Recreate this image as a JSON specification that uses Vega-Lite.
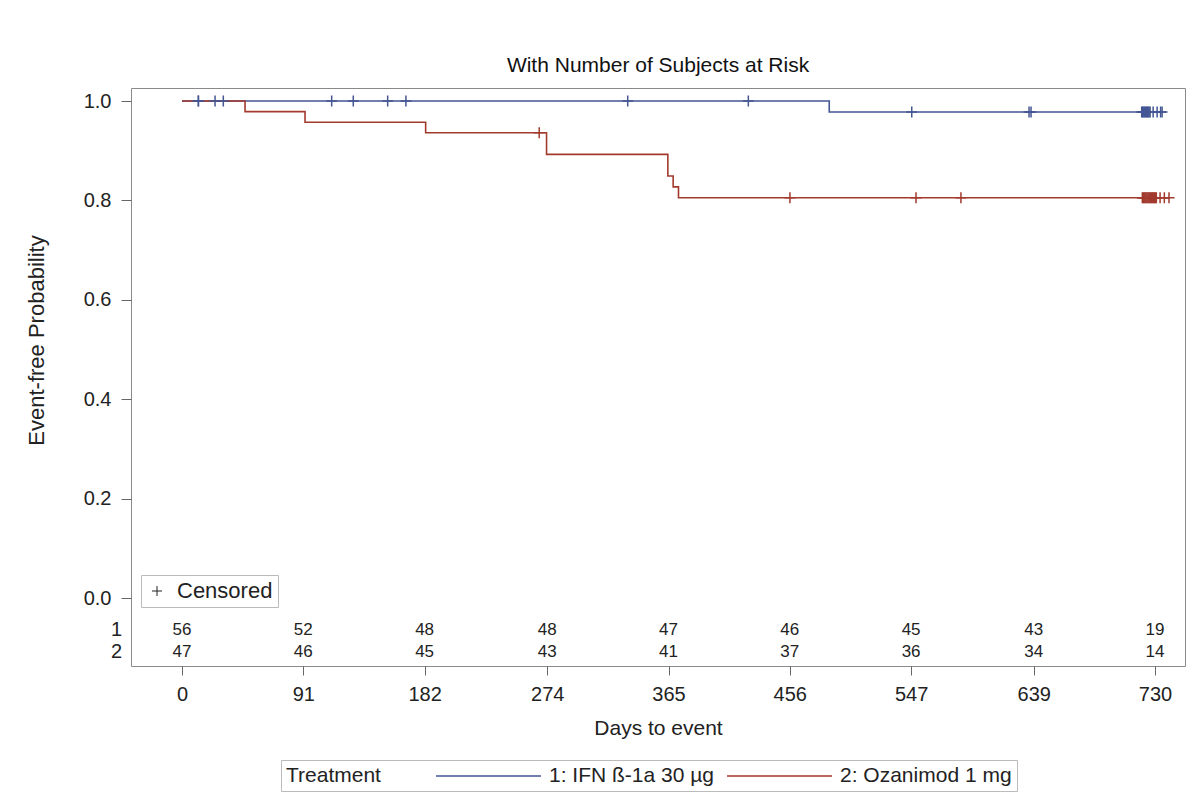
{
  "$schema": "https://vega.github.io/schema/vega-lite/v6.json",
  "width": 1054,
  "height": 578,
  "autosize": {"type": "none"},
  "padding": {"left": 131, "top": 88, "right": 16, "bottom": 134},
  "background": "white",
  "title": {"text": "With Number of Subjects at Risk", "fontSize": 21, "fontWeight": "normal", "font": "Liberation Sans", "color": "#111", "anchor": "middle", "offset": 12},
  "config": {"view": {"stroke": "#8a8a8a", "strokeWidth": 1}, "font": "Liberation Sans"},
  "datasets": {
    "curves": [
      {"trt": "1: IFN ß-1a 30 µg", "day": 0, "surv": 1},
      {"trt": "1: IFN ß-1a 30 µg", "day": 485.6, "surv": 0.9778},
      {"trt": "1: IFN ß-1a 30 µg", "day": 735.3, "surv": 0.9778},
      {"trt": "2: Ozanimod 1 mg", "day": 0, "surv": 1},
      {"trt": "2: Ozanimod 1 mg", "day": 47.3, "surv": 0.9787},
      {"trt": "2: Ozanimod 1 mg", "day": 92.3, "surv": 0.9574},
      {"trt": "2: Ozanimod 1 mg", "day": 182.8, "surv": 0.9362},
      {"trt": "2: Ozanimod 1 mg", "day": 273.5, "surv": 0.8926},
      {"trt": "2: Ozanimod 1 mg", "day": 364.5, "surv": 0.8491},
      {"trt": "2: Ozanimod 1 mg", "day": 368.5, "surv": 0.8273},
      {"trt": "2: Ozanimod 1 mg", "day": 372.5, "surv": 0.8055},
      {"trt": "2: Ozanimod 1 mg", "day": 740.5, "surv": 0.8055}
    ],
    "censored": [
      {"trt": "1: IFN ß-1a 30 µg", "day": 12.3, "surv": 1, "cens": "Censored"},
      {"trt": "1: IFN ß-1a 30 µg", "day": 12.3, "surv": 1, "cens": "Censored"},
      {"trt": "1: IFN ß-1a 30 µg", "day": 24.8, "surv": 1, "cens": "Censored"},
      {"trt": "1: IFN ß-1a 30 µg", "day": 31, "surv": 1, "cens": "Censored"},
      {"trt": "1: IFN ß-1a 30 µg", "day": 112.3, "surv": 1, "cens": "Censored"},
      {"trt": "1: IFN ß-1a 30 µg", "day": 128.5, "surv": 1, "cens": "Censored"},
      {"trt": "1: IFN ß-1a 30 µg", "day": 154.3, "surv": 1, "cens": "Censored"},
      {"trt": "1: IFN ß-1a 30 µg", "day": 168, "surv": 1, "cens": "Censored"},
      {"trt": "1: IFN ß-1a 30 µg", "day": 334.4, "surv": 1, "cens": "Censored"},
      {"trt": "1: IFN ß-1a 30 µg", "day": 424.9, "surv": 1, "cens": "Censored"},
      {"trt": "1: IFN ß-1a 30 µg", "day": 547.5, "surv": 0.9778, "cens": "Censored"},
      {"trt": "1: IFN ß-1a 30 µg", "day": 635.5, "surv": 0.9778, "cens": "Censored"},
      {"trt": "1: IFN ß-1a 30 µg", "day": 637, "surv": 0.9778, "cens": "Censored"},
      {"trt": "1: IFN ß-1a 30 µg", "day": 720, "surv": 0.9778, "cens": "Censored"},
      {"trt": "1: IFN ß-1a 30 µg", "day": 720.7, "surv": 0.9778, "cens": "Censored"},
      {"trt": "1: IFN ß-1a 30 µg", "day": 721.4, "surv": 0.9778, "cens": "Censored"},
      {"trt": "1: IFN ß-1a 30 µg", "day": 722.1, "surv": 0.9778, "cens": "Censored"},
      {"trt": "1: IFN ß-1a 30 µg", "day": 722.8, "surv": 0.9778, "cens": "Censored"},
      {"trt": "1: IFN ß-1a 30 µg", "day": 723.5, "surv": 0.9778, "cens": "Censored"},
      {"trt": "1: IFN ß-1a 30 µg", "day": 724.2, "surv": 0.9778, "cens": "Censored"},
      {"trt": "1: IFN ß-1a 30 µg", "day": 724.9, "surv": 0.9778, "cens": "Censored"},
      {"trt": "1: IFN ß-1a 30 µg", "day": 725.6, "surv": 0.9778, "cens": "Censored"},
      {"trt": "1: IFN ß-1a 30 µg", "day": 726.3, "surv": 0.9778, "cens": "Censored"},
      {"trt": "1: IFN ß-1a 30 µg", "day": 728.6, "surv": 0.9778, "cens": "Censored"},
      {"trt": "1: IFN ß-1a 30 µg", "day": 731.6, "surv": 0.9778, "cens": "Censored"},
      {"trt": "1: IFN ß-1a 30 µg", "day": 734.2, "surv": 0.9778, "cens": "Censored"},
      {"trt": "1: IFN ß-1a 30 µg", "day": 735.3, "surv": 0.9778, "cens": "Censored"},
      {"trt": "2: Ozanimod 1 mg", "day": 268, "surv": 0.9362, "cens": "Censored"},
      {"trt": "2: Ozanimod 1 mg", "day": 456.1, "surv": 0.8055, "cens": "Censored"},
      {"trt": "2: Ozanimod 1 mg", "day": 550.7, "surv": 0.8055, "cens": "Censored"},
      {"trt": "2: Ozanimod 1 mg", "day": 584.4, "surv": 0.8055, "cens": "Censored"},
      {"trt": "2: Ozanimod 1 mg", "day": 720.5, "surv": 0.8055, "cens": "Censored"},
      {"trt": "2: Ozanimod 1 mg", "day": 721.2, "surv": 0.8055, "cens": "Censored"},
      {"trt": "2: Ozanimod 1 mg", "day": 721.9, "surv": 0.8055, "cens": "Censored"},
      {"trt": "2: Ozanimod 1 mg", "day": 722.6, "surv": 0.8055, "cens": "Censored"},
      {"trt": "2: Ozanimod 1 mg", "day": 723.3, "surv": 0.8055, "cens": "Censored"},
      {"trt": "2: Ozanimod 1 mg", "day": 724, "surv": 0.8055, "cens": "Censored"},
      {"trt": "2: Ozanimod 1 mg", "day": 724.7, "surv": 0.8055, "cens": "Censored"},
      {"trt": "2: Ozanimod 1 mg", "day": 725.4, "surv": 0.8055, "cens": "Censored"},
      {"trt": "2: Ozanimod 1 mg", "day": 726.1, "surv": 0.8055, "cens": "Censored"},
      {"trt": "2: Ozanimod 1 mg", "day": 726.8, "surv": 0.8055, "cens": "Censored"},
      {"trt": "2: Ozanimod 1 mg", "day": 727.5, "surv": 0.8055, "cens": "Censored"},
      {"trt": "2: Ozanimod 1 mg", "day": 728.2, "surv": 0.8055, "cens": "Censored"},
      {"trt": "2: Ozanimod 1 mg", "day": 728.9, "surv": 0.8055, "cens": "Censored"},
      {"trt": "2: Ozanimod 1 mg", "day": 729.6, "surv": 0.8055, "cens": "Censored"},
      {"trt": "2: Ozanimod 1 mg", "day": 730.3, "surv": 0.8055, "cens": "Censored"},
      {"trt": "2: Ozanimod 1 mg", "day": 731, "surv": 0.8055, "cens": "Censored"},
      {"trt": "2: Ozanimod 1 mg", "day": 733.8, "surv": 0.8055, "cens": "Censored"},
      {"trt": "2: Ozanimod 1 mg", "day": 737, "surv": 0.8055, "cens": "Censored"},
      {"trt": "2: Ozanimod 1 mg", "day": 740.5, "surv": 0.8055, "cens": "Censored"}
    ],
    "risk": [
      {"grp": "1", "day": 0, "n": 56},
      {"grp": "1", "day": 91, "n": 52},
      {"grp": "1", "day": 182, "n": 48},
      {"grp": "1", "day": 274, "n": 48},
      {"grp": "1", "day": 365, "n": 47},
      {"grp": "1", "day": 456, "n": 46},
      {"grp": "1", "day": 547, "n": 45},
      {"grp": "1", "day": 639, "n": 43},
      {"grp": "1", "day": 730, "n": 19},
      {"grp": "2", "day": 0, "n": 47},
      {"grp": "2", "day": 91, "n": 46},
      {"grp": "2", "day": 182, "n": 45},
      {"grp": "2", "day": 274, "n": 43},
      {"grp": "2", "day": 365, "n": 41},
      {"grp": "2", "day": 456, "n": 37},
      {"grp": "2", "day": 547, "n": 36},
      {"grp": "2", "day": 639, "n": 34},
      {"grp": "2", "day": 730, "n": 14}
    ]
  },
  "layer": [
    {
      "encoding": {
        "x": {"field": "day", "type": "quantitative", "scale": {"domain": [-38.26, 752.5], "nice": false, "zero": false},
          "axis": {"values": [0, 91, 182, 274, 365, 456, 547, 639, 730], "labelFontSize": 20, "labelColor": "#222", "tickSize": 9, "tickColor": "#666", "labelPadding": 9, "grid": false, "domain": false, "labelFlush": false, "title": "Days to event", "titleFontSize": 21, "titleFontWeight": "normal", "titleColor": "#222", "titlePadding": 13}},
        "y": {"field": "surv", "type": "quantitative", "scale": {"domain": [-0.1368, 1.0262], "nice": false, "zero": false},
          "axis": {"values": [0, 0.2, 0.4, 0.6, 0.8, 1], "format": ".1f", "labelFontSize": 20, "labelColor": "#222", "tickSize": 10, "tickColor": "#666", "labelPadding": 10, "grid": false, "domain": false, "title": "Event-free Probability", "titleFont": "Liberation Sans", "titleFontSize": 22, "titleFontWeight": "normal", "titleColor": "#222", "titleX": -83, "titleY": 252}}
      },
      "layer": [
        {
          "data": {"name": "curves"},
          "mark": {"type": "line", "interpolate": "step-after", "strokeWidth": 1.6},
          "encoding": {
            "color": {"field": "trt", "type": "nominal",
              "scale": {"domain": ["1: IFN ß-1a 30 µg", "2: Ozanimod 1 mg"], "range": ["#445694", "#A23A2E"]},
              "legend": {"orient": "none", "legendX": 150, "legendY": 672, "direction": "horizontal", "title": "Treatment", "titleOrient": "left", "titleFontSize": 21, "titleFontWeight": "normal", "titleColor": "#222", "titlePadding": 55, "labelFontSize": 21, "labelLimit": 0, "labelColor": "#222", "symbolType": "M-5.25,0H5.25", "symbolSize": 400, "symbolStrokeWidth": 1.3, "symbolOffset": 41.5, "labelOffset": 49.5, "columnPadding": 10, "strokeColor": "#bbb", "padding": 5, "fillColor": "white"}}
          }
        },
        {
          "data": {"name": "censored"},
          "mark": {"type": "point", "filled": false, "strokeWidth": 1.5, "size": 121, "opacity": 1},
          "encoding": {
            "stroke": {"field": "trt", "type": "nominal", "scale": {"domain": ["1: IFN ß-1a 30 µg", "2: Ozanimod 1 mg"], "range": ["#445694", "#A23A2E"]}, "legend": null},
            "shape": {"field": "cens", "type": "nominal", "scale": {"range": ["M-1,0H1M0,-1V1"]},
              "legend": {"orient": "none", "legendX": 10, "legendY": 487, "title": null, "labelFontSize": 22, "labelLimit": 0, "labelColor": "#222", "symbolStrokeColor": "#222", "symbolFillColor": "transparent", "symbolSize": 100, "symbolStrokeWidth": 1, "strokeColor": "#bbb", "padding": 5, "labelOffset": 9, "fillColor": "white"}}
          }
        }
      ]
    },
    {
      "data": {"name": "risk"},
      "layer": [
        {
          "mark": {"type": "text", "fontSize": 17, "color": "#222", "baseline": "middle", "align": "center"},
          "encoding": {
            "x": {"field": "day", "type": "quantitative", "title": "Days to event"},
            "y": {"field": "grp", "type": "ordinal", "scale": {"type": "point", "domain": ["1", "2"], "range": [542, 564], "padding": 0}, "axis": null},
            "text": {"field": "n", "type": "quantitative"}
          }
        },
        {
          "transform": [{"filter": "datum.day == 0"}],
          "mark": {"type": "text", "fontSize": 20, "color": "#222", "baseline": "middle", "align": "right"},
          "encoding": {
            "x": {"datum": -45, "type": "quantitative"},
            "y": {"field": "grp", "type": "ordinal", "scale": {"type": "point", "domain": ["1", "2"], "range": [542, 564], "padding": 0}, "axis": null},
            "text": {"field": "grp", "type": "nominal"}
          }
        }
      ]
    }
  ],
  "resolve": {"scale": {"y": "independent"}}
}
